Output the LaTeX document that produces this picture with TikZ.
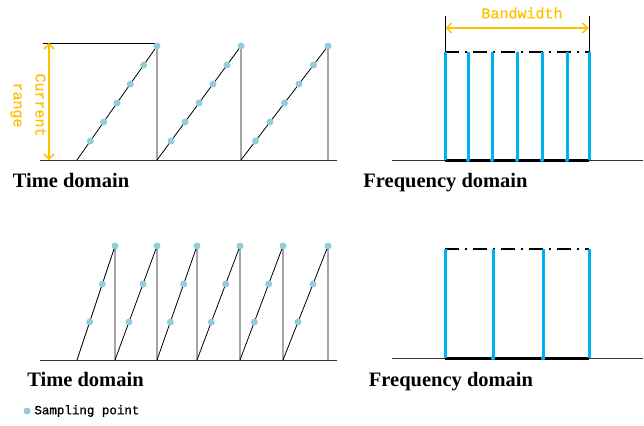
\documentclass[tikz,border=0pt]{standalone}
\usepackage{fontspec}
\setmainfont{Liberation Serif}
\newfontfamily\cnmono[FakeBold=0.8]{Liberation Mono}
\usetikzlibrary{arrows.meta,calc}
\definecolor{gold}{RGB}{255,192,0}
\definecolor{skyb}{RGB}{0,176,240}
\definecolor{dotc}{RGB}{146,205,220}
\begin{document}
\begin{tikzpicture}[x=1pt,y=-1pt,line width=0.8pt,
  axisline/.style={draw=black!80,line width=1pt},
  bandline/.style={draw=black,line width=3pt},
  dashdotline/.style={draw=black,line width=1.8pt,dash pattern=on 14pt off 6pt on 2pt off 6pt},
  specline/.style={draw=skyb,line width=3pt},
  goldarrow/.style={draw=gold,line width=1.5pt,{Straight Barb[length=5pt,width=10pt]}-{Straight Barb[length=5pt,width=10pt]}},
  sampdot/.style={fill=dotc},
  title/.style={font=\bfseries\fontsize{20.5}{24}\selectfont,inner sep=0pt,anchor=base},
  monolabel/.style={font=\cnmono\fontsize{15}{22}\selectfont,text=gold,inner sep=0pt}]
\useasboundingbox (0,0) rectangle (644,425);

% ---------- top left: time domain ----------
\draw[axisline] (40,160) -- (337,160);
\draw (43,43) -- (157,43);
\foreach \a/\b in {77/157,157/241,241/328}{
  \draw (\a,160) -- (\b,46) -- (\b,160);
  \foreach \k in {1,...,6}
    \fill[sampdot] ($(\a,160)!\k/6!(\b,46)$) circle (3.5);
}
\draw[goldarrow] (49,43) -- (49,160);
\node[monolabel,rotate=-90,align=center] (cr) at (28,105) {Current\\range};
\node[title] (t1) at (71,187) {Time domain};

% ---------- top right: frequency domain ----------
\draw[axisline] (392,160) -- (643,160);
\draw[bandline] (445,160) -- (589,160);
\draw[dashdotline] (445,52) -- (589,52);
\foreach \x in {445,468,492,517,542,567,589}
  \draw[specline] (\x,52) -- (\x,160);
\foreach \x in {468,492,517,542,567}
  \fill[skyb] (\x,160) circle (2);
\draw (445,16) -- (445,52);
\draw (589,16) -- (589,52);
\draw[goldarrow] (445.5,28) -- (588.5,28);
\node[monolabel] (bw) at (522,13) {Bandwidth};
\node[title] (f1) at (445.5,187) {Frequency domain};

% ---------- bottom left: time domain ----------
\draw[axisline] (40,360) -- (337,360);
\foreach \a/\b in {77/115,115/157,157/197,197/240,240/283,283/328}{
  \draw (\a,360) -- (\b,246) -- (\b,360);
  \foreach \k in {1,2,3}
    \fill[sampdot] ($(\a,360)!\k/3!(\b,246)$) circle (3.5);
}
\node[title] (t2) at (85.5,386.5) {Time domain};

% ---------- bottom right: frequency domain ----------
\draw[axisline] (392,358) -- (643,358);
\draw[bandline] (445,358) -- (589,358);
\draw[dashdotline] (445,249) -- (589,249);
\foreach \x in {445,493,543,589}
  \draw[specline] (\x,249) -- (\x,358);
\foreach \x in {493,543}
  \fill[skyb] (\x,358) circle (2.2);
\node[title] (f2) at (451,386.5) {Frequency domain};

% ---------- legend ----------
\fill[sampdot] (27,411) circle (3.5);
\node[font=\cnmono\fontsize{12.5}{15}\selectfont,anchor=west,inner sep=0pt] (sp) at (34,411) {Sampling point};
\end{tikzpicture}
\end{document}
